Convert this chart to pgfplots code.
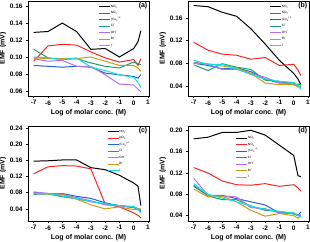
\documentclass[border=0pt]{standalone}
\usepackage{fontspec}
\setmainfont{Liberation Sans}
\usepackage{pgfplots}
\pgfplotsset{compat=1.18}
\usepackage{pgfplotstable}

\definecolor{myred}{HTML}{FF2424}
\definecolor{myblue}{HTML}{2060D8}
\definecolor{mygreen}{HTML}{1AA06A}
\definecolor{mypurple}{HTML}{B070F0}
\definecolor{myorange}{HTML}{D09A10}
\definecolor{mycyan}{HTML}{10E0E0}

\pgfplotstableread{
x    no2   no3   co3   cl    oh    br    i
-7   0.129 0.095 0.090 0.109 0.098 0.099 0.100
-6   0.130 0.113 0.089 0.099 0.095 0.098 0.099
-5   0.140 0.115 0.088 0.097 0.096 0.098 0.097
-4   0.130 0.114 0.089 0.098 0.089 0.098 0.099
-3   0.109 0.106 0.088 0.093 0.089 0.100 0.088
-2   0.110 0.099 0.081 0.089 0.079 0.095 0.084
-1   0.100 0.094 0.079 0.087 0.068 0.090 0.079
0    0.110 0.097 0.077 0.094 0.067 0.090 0.076
0.3  0.118 0.090 0.075 0.092 0.062 0.087 0.070
0.5  0.131 0.098 0.079 0.091 0.059 0.083 0.064
}\Ta
\pgfplotstableread{
x    no2   no3   co3   cl    oh    br    i
-7   0.182 0.117 0.080 0.077 0.082 0.080 0.085
-6   0.180 0.103 0.076 0.067 0.078 0.079 0.078
-5   0.170 0.096 0.070 0.079 0.069 0.075 0.078
-4   0.163 0.094 0.072 0.073 0.069 0.072 0.070
-3   0.141 0.087 0.065 0.069 0.062 0.062 0.060
-2   0.114 0.090 0.052 0.050 0.055 0.045 0.052
-1   0.085 0.076 0.045 0.048 0.045 0.042 0.048
0    0.062 0.078 0.045 0.042 0.044 0.042 0.046
0.3  0.052 0.068 0.040 0.043 0.040 0.038 0.040
0.5  0.042 0.058 0.038 0.042 0.036 0.040 0.034
}\Tb
\pgfplotstableread{
x    no2   no3   co3   cl    oh    br    i
-7   0.158 0.127 0.080 0.076 0.082 0.078 0.078
-6   0.159 0.144 0.078 0.077 0.078 0.077 0.078
-5   0.161 0.147 0.078 0.070 0.075 0.077 0.072
-4   0.161 0.146 0.071 0.065 0.068 0.064 0.066
-3   0.142 0.139 0.066 0.058 0.060 0.050 0.058
-2   0.137 0.052 0.055 0.052 0.050 0.040 0.053
-1   0.123 0.045 0.048 0.048 0.047 0.045 0.048
0    0.104 0.030 0.044 0.043 0.045 0.038 0.046
0.3  0.096 0.024 0.040 0.038 0.041 0.040 0.038
0.5  0.048 0.018 0.036 0.032 0.038 0.040 0.030
}\Tc
\pgfplotstableread{
x    no2   no3   co3   cl    oh    br    i
-7   0.184 0.130 0.095 0.097 0.110 0.090 0.100
-6   0.187 0.120 0.078 0.077 0.078 0.075 0.080
-5   0.196 0.105 0.078 0.070 0.077 0.076 0.073
-4   0.196 0.098 0.072 0.070 0.075 0.066 0.066
-3   0.200 0.097 0.066 0.058 0.055 0.050 0.058
-2   0.191 0.100 0.060 0.050 0.053 0.039 0.052
-1   0.172 0.095 0.045 0.048 0.045 0.044 0.048
0    0.153 0.098 0.045 0.043 0.044 0.040 0.045
0.3  0.115 0.092 0.040 0.040 0.042 0.035 0.040
0.5  0.113 0.086 0.047 0.041 0.040 0.040 0.038
}\Td

\tikzset{plab/.style={anchor=north east, inner sep=1.5pt, font=\fontsize{7}{8}\selectfont\bfseries}}
\newcommand{\ion}[3]{#1\textsubscript{#2}\textsuperscript{#3}}

\pgfplotsset{
  panel/.style={
    scale only axis, width=121bp, height=95bp,
    xmin=-7.4, xmax=1.07,
    xtick={-7,-6,...,1},
    tick align=outside, xtick pos=bottom, ytick pos=left,
    major tick length=2bp,
    tick style={line width=0.6pt, black},
    axis line style={line width=0.7pt},
    ticklabel style={font=\fontsize{6.5}{7}\selectfont\bfseries},
    /pgf/number format/assume math mode=true,
    yticklabel style={/pgf/number format/fixed, /pgf/number format/fixed zerofill, /pgf/number format/precision=2},
    xlabel={Log of molar conc. (M)},
    ylabel={EMF (mV)},
    label style={font=\fontsize{7}{8}\selectfont\bfseries},
    xlabel style={yshift=2.5bp},
    ylabel style={yshift=-3bp},
    xticklabel style={yshift=1bp},
    legend style={draw=none, fill=none, font=\fontsize{3.2}{3.6}\selectfont,
      nodes={inner sep=0.2pt, text height=3bp, text depth=1.2bp}, row sep=1.9bp},
    legend cell align=left,
    legend image code/.code={\draw[##1, line width=0.8pt] (0bp,0bp) -- (11bp,0bp);},
    cycle list={{black},{myred},{myblue},{mygreen},{mypurple},{myorange},{mycyan}},
    every axis plot/.append style={line width=1pt, mark=none},
    legend entries={\ion{NO}{2}{-}, \ion{NO}{3}{-}, \ion{(Co}{3}{)}\textsuperscript{2-}, \ion{Cl}{}{-}, \ion{OH}{}{-}, \ion{Br}{}{-}, \ion{I}{}{-}},
  }
}

\newcommand{\plotset}[1]{%
  \addplot table[x=x,y=no2]{#1};
  \addplot table[x=x,y=no3]{#1};
  \addplot table[x=x,y=co3]{#1};
  \addplot table[x=x,y=cl]{#1};
  \addplot table[x=x,y=oh]{#1};
  \addplot table[x=x,y=br]{#1};
  \addplot table[x=x,y=i]{#1};
}

\begin{document}
\begin{tikzpicture}
\path[use as bounding box] (0,0) rectangle (310bp,-242bp);

\begin{axis}[panel, at={(28bp,-1bp)}, anchor=north west,
  ymin=0.054, ymax=0.166, ytick={0.06,0.08,0.10,0.12,0.14,0.16},
  legend style={at={(0.56,0.99)}, anchor=north west}]
\plotset{\Ta}
\node[plab] at (rel axis cs:1,1) {(a)};
\end{axis}

\begin{axis}[panel, at={(188bp,-1bp)}, anchor=north west,
  ymin=0.022, ymax=0.190, ytick={0.04,0.08,0.12,0.16},
  legend style={at={(0.65,0.99)}, anchor=north west}]
\plotset{\Tb}
\node[plab] at (rel axis cs:1,1) {(b)};
\end{axis}

\begin{axis}[panel, at={(28bp,-126bp)}, anchor=north west,
  ymin=0.010, ymax=0.245, ytick={0.04,0.08,0.12,0.16,0.20,0.24},
  legend style={at={(0.63,0.99)}, anchor=north west}]
\plotset{\Tc}
\node[plab] at (rel axis cs:1,1) {(c)};
\end{axis}

\begin{axis}[panel, at={(188bp,-126bp)}, anchor=north west,
  ymin=0.030, ymax=0.208, ytick={0.04,0.08,0.12,0.16,0.20},
  legend style={at={(0.37,0.92)}, anchor=north west}]
\plotset{\Td}
\node[plab] at (rel axis cs:1,1) {(d)};
\end{axis}
\end{tikzpicture}
\end{document}
